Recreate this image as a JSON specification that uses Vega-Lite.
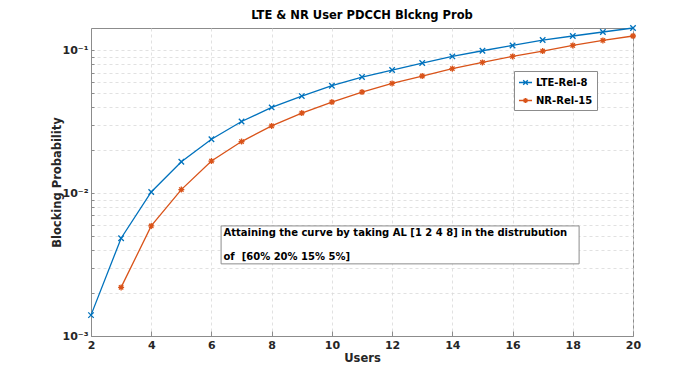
{
  "$schema": "https://vega.github.io/schema/vega-lite/v6.json",
  "width": 542,
  "height": 308,
  "autosize": "none",
  "padding": {"left": 91, "top": 28, "right": 67, "bottom": 42},
  "background": "white",
  "title": {
    "text": "LTE & NR User PDCCH Blckng Prob",
    "font": "DejaVu Sans",
    "fontSize": 11.5,
    "fontWeight": "bold",
    "color": "#000000",
    "anchor": "middle",
    "offset": 1
  },
  "config": {
    "font": "DejaVu Sans",
    "view": {"stroke": "#8c8c8c", "strokeWidth": 1},
    "axis": {
      "labelFont": "DejaVu Sans",
      "labelFontWeight": "bold",
      "labelFontSize": 11,
      "labelColor": "#262626",
      "titleFont": "DejaVu Sans",
      "titleFontWeight": "bold",
      "titleFontSize": 11.5,
      "titleColor": "#262626",
      "domainColor": "#8c8c8c",
      "tickColor": "#8c8c8c",
      "gridColor": "#d9d9d9",
      "gridDash": [3, 3],
      "gridWidth": 0.8
    }
  },
  "datasets": {
    "curves": [
      {"Users": 2, "Prob": 0.0014, "Series": "LTE-Rel-8"},
      {"Users": 3, "Prob": 0.00484, "Series": "LTE-Rel-8"},
      {"Users": 4, "Prob": 0.0102, "Series": "LTE-Rel-8"},
      {"Users": 5, "Prob": 0.0166, "Series": "LTE-Rel-8"},
      {"Users": 6, "Prob": 0.0239, "Series": "LTE-Rel-8"},
      {"Users": 7, "Prob": 0.0318, "Series": "LTE-Rel-8"},
      {"Users": 8, "Prob": 0.0399, "Series": "LTE-Rel-8"},
      {"Users": 9, "Prob": 0.0479, "Series": "LTE-Rel-8"},
      {"Users": 10, "Prob": 0.0566, "Series": "LTE-Rel-8"},
      {"Users": 11, "Prob": 0.0651, "Series": "LTE-Rel-8"},
      {"Users": 12, "Prob": 0.0729, "Series": "LTE-Rel-8"},
      {"Users": 13, "Prob": 0.0816, "Series": "LTE-Rel-8"},
      {"Users": 14, "Prob": 0.0908, "Series": "LTE-Rel-8"},
      {"Users": 15, "Prob": 0.0995, "Series": "LTE-Rel-8"},
      {"Users": 16, "Prob": 0.1084, "Series": "LTE-Rel-8"},
      {"Users": 17, "Prob": 0.1183, "Series": "LTE-Rel-8"},
      {"Users": 18, "Prob": 0.1262, "Series": "LTE-Rel-8"},
      {"Users": 19, "Prob": 0.1346, "Series": "LTE-Rel-8"},
      {"Users": 20, "Prob": 0.1436, "Series": "LTE-Rel-8"},
      {"Users": 3, "Prob": 0.00219, "Series": "NR-Rel-15"},
      {"Users": 4, "Prob": 0.0059, "Series": "NR-Rel-15"},
      {"Users": 5, "Prob": 0.0106, "Series": "NR-Rel-15"},
      {"Users": 6, "Prob": 0.0168, "Series": "NR-Rel-15"},
      {"Users": 7, "Prob": 0.0230, "Series": "NR-Rel-15"},
      {"Users": 8, "Prob": 0.0296, "Series": "NR-Rel-15"},
      {"Users": 9, "Prob": 0.0364, "Series": "NR-Rel-15"},
      {"Users": 10, "Prob": 0.0435, "Series": "NR-Rel-15"},
      {"Users": 11, "Prob": 0.0511, "Series": "NR-Rel-15"},
      {"Users": 12, "Prob": 0.0587, "Series": "NR-Rel-15"},
      {"Users": 13, "Prob": 0.0662, "Series": "NR-Rel-15"},
      {"Users": 14, "Prob": 0.0745, "Series": "NR-Rel-15"},
      {"Users": 15, "Prob": 0.0824, "Series": "NR-Rel-15"},
      {"Users": 16, "Prob": 0.0908, "Series": "NR-Rel-15"},
      {"Users": 17, "Prob": 0.0990, "Series": "NR-Rel-15"},
      {"Users": 18, "Prob": 0.1084, "Series": "NR-Rel-15"},
      {"Users": 19, "Prob": 0.1175, "Series": "NR-Rel-15"},
      {"Users": 20, "Prob": 0.1262, "Series": "NR-Rel-15"}
    ],
    "note_box": [
      {"x1": 6.32, "x2": 18.21, "y1": 0.0059, "y2": 0.0032}
    ],
    "note_text": [
      {"Users": 6.4, "Prob": 0.00527, "label": "Attaining the curve by taking AL [1 2 4 8] in the distrubution"},
      {"Users": 6.4, "Prob": 0.00358, "label": "of \u00a0[60% 20% 15% 5%]"}
    ]
  },
  "layer": [
    {
      "data": {"name": "note_box"},
      "mark": {"type": "rect", "fill": "white", "stroke": "#8c8c8c", "strokeWidth": 1},
      "encoding": {
        "x": {"field": "x1", "type": "quantitative", "scale": {"domain": [2, 20], "nice": false, "zero": false},
          "axis": {"values": [2, 4, 6, 8, 10, 12, 14, 16, 18, 20], "title": "Users", "tickSize": -5, "labelPadding": 8, "titlePadding": 2, "labelFlush": false}},
        "x2": {"field": "x2"},
        "y": {"field": "y1", "type": "quantitative",
          "scale": {"type": "log", "domain": [0.001, 0.1436], "nice": false},
          "axis": {
            "values": [0.001, 0.002, 0.003, 0.004, 0.005, 0.006, 0.007, 0.008, 0.009, 0.01, 0.02, 0.03, 0.04, 0.05, 0.06, 0.07, 0.08, 0.09, 0.1],
            "labelExpr": "datum.value == 0.1 ? '10⁻¹' : (datum.value == 0.01 ? '10⁻²' : (datum.value == 0.001 ? '10⁻³' : ''))",
            "title": "Blocking Probability",
            "tickSize": -3,
            "labelPadding": 6,
            "titlePadding": 0
          }},
        "y2": {"field": "y2"}
      }
    },
    {
      "data": {"name": "note_text"},
      "mark": {"type": "text", "align": "left", "baseline": "middle", "font": "DejaVu Sans", "fontWeight": "bold", "fontSize": 10, "color": "#000000"},
      "encoding": {
        "x": {"field": "Users", "type": "quantitative"},
        "y": {"field": "Prob", "type": "quantitative"},
        "text": {"field": "label"}
      }
    },
    {
      "data": {"name": "curves"},
      "mark": {"type": "line", "strokeWidth": 1.3},
      "encoding": {
        "x": {"field": "Users", "type": "quantitative"},
        "y": {"field": "Prob", "type": "quantitative"},
        "color": {
          "field": "Series", "type": "nominal",
          "scale": {"domain": ["LTE-Rel-8", "NR-Rel-15"], "range": ["#0072BD", "#D95319"]},
          "legend": {
            "title": null,
            "orient": "none",
            "legendX": 423,
            "legendY": 43,
            "padding": 4,
            "strokeColor": "#8c8c8c",
            "fillColor": "white",
            "labelFont": "DejaVu Sans",
            "labelFontWeight": "bold",
            "labelFontSize": 10,
            "labelColor": "#000000",
            "symbolSize": 170,
            "symbolStrokeWidth": 1.3,
            "rowPadding": 5,
            "labelOffset": 3,
            "encode": {
              "symbols": {
                "update": {
                  "shape": {"signal": "datum.value === 'LTE-Rel-8' ? 'M-1,0H1M-0.35,-0.35L0.35,0.35M-0.35,0.35L0.35,-0.35' : 'M-1,0H1M0,-0.38V0.38M-0.38,0H0.38M-0.28,-0.28L0.28,0.28M-0.28,0.28L0.28,-0.28'"},
                  "fill": {"value": "transparent"}
                }
              }
            }
          }
        }
      }
    },
    {
      "data": {"name": "curves"},
      "transform": [{"filter": "datum.Series === 'LTE-Rel-8'"}],
      "mark": {"type": "point", "filled": false, "strokeWidth": 1.3, "size": 30, "opacity": 1, "shape": "M-1,-1L1,1M-1,1L1,-1"},
      "encoding": {
        "x": {"field": "Users", "type": "quantitative"},
        "y": {"field": "Prob", "type": "quantitative"},
        "color": {"field": "Series", "type": "nominal", "legend": null}
      }
    },
    {
      "data": {"name": "curves"},
      "transform": [{"filter": "datum.Series === 'NR-Rel-15'"}],
      "mark": {"type": "point", "filled": false, "strokeWidth": 1.3, "size": 30, "opacity": 1, "shape": "M0,-1.1V1.1M-1.1,0H1.1M-0.8,-0.8L0.8,0.8M-0.8,0.8L0.8,-0.8"},
      "encoding": {
        "x": {"field": "Users", "type": "quantitative"},
        "y": {"field": "Prob", "type": "quantitative"},
        "color": {"field": "Series", "type": "nominal", "legend": null}
      }
    }
  ]
}
